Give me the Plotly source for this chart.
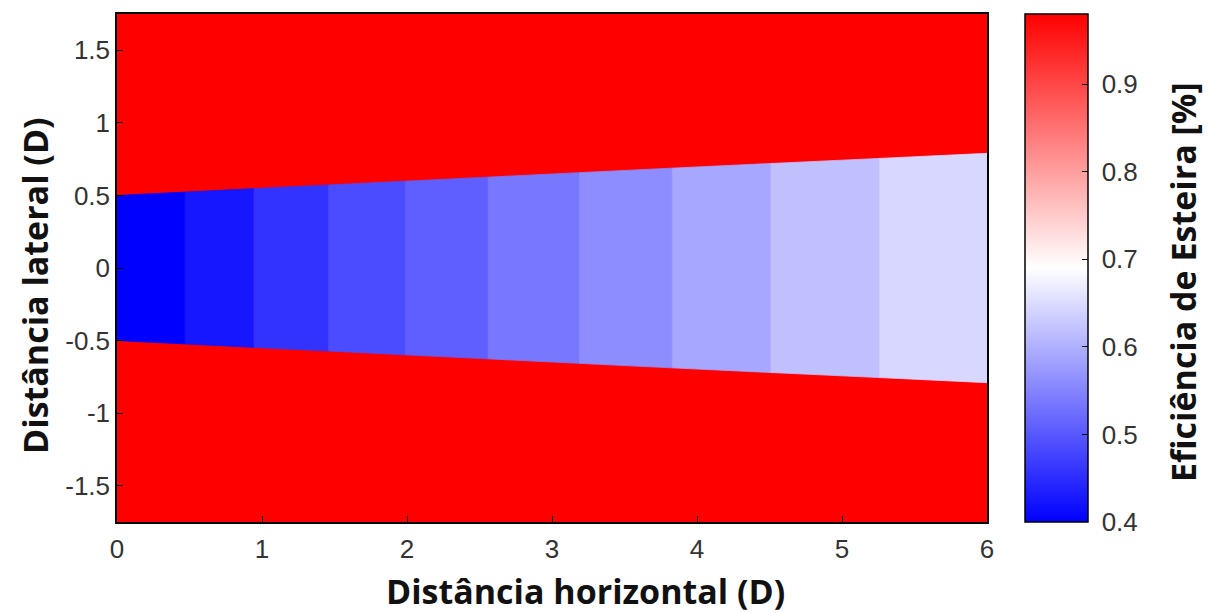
import plotly.graph_objects as go
from plotly.colors import sample_colorscale

# ---- data ----
x_edges = [0.0, 0.47, 0.945, 1.46, 1.99, 2.56, 3.19, 3.83, 4.51, 5.26, 6.0]
half_width = [0.50, 0.523, 0.547, 0.572, 0.598, 0.626, 0.657, 0.688, 0.72, 0.755, 0.79]
block_eff = [0.400, 0.425, 0.458, 0.485, 0.508, 0.537, 0.560, 0.590, 0.618, 0.645]
outer_eff = 0.98
x_ticks = [0, 1, 2, 3, 4, 5, 6]
y_ticks = [-1.5, -1, -0.5, 0, 0.5, 1, 1.5]
cb_ticks = [0.4, 0.5, 0.6, 0.7, 0.8, 0.9]

x_title = "Distância horizontal (D)"
y_title = "Distância lateral (D)"
cb_title = "Eficiência de Esteira [%]"

cmin, cmax = 0.4, 0.98
cscale = [[0.0, "rgb(0,0,255)"], [0.5, "rgb(255,255,255)"], [1.0, "rgb(255,0,0)"]]

TICKFONT = dict(family="Liberation Sans, Arial, sans-serif", size=26, color="#333")
TITLEFONT = dict(family="Open Sans, Liberation Sans, sans-serif", size=34, color="#111")

fig = go.Figure()

# free-stream (outside wake) region
fig.add_trace(go.Heatmap(
    x=[x_edges[0], x_edges[-1]], y=[-1.75, 1.75],
    z=[[outer_eff, outer_eff], [outer_eff, outer_eff]],
    colorscale=cscale, zmin=cmin, zmax=cmax, hoverinfo="skip",
    colorbar=dict(
        x=1.0437, xanchor="left", xref="paper", xpad=0, ypad=0,
        y=0, yanchor="bottom", len=1, lenmode="fraction",
        thickness=63, thicknessmode="pixels",
        outlinecolor="black", outlinewidth=1.5,
        tickvals=cb_ticks, ticktext=[" " + str(v) for v in cb_ticks],
        ticks="inside", ticklen=6, tickcolor="black",
        tickfont=TICKFONT,
    ),
))

# wake blocks
for i, v in enumerate(block_eff):
    x0, x1 = x_edges[i], x_edges[i + 1]
    h0, h1 = half_width[i], half_width[i + 1]
    col = sample_colorscale(cscale, [(v - cmin) / (cmax - cmin)])[0]
    fig.add_trace(go.Scatter(
        x=[x0, x1, x1, x0, x0], y=[-h0, -h1, h1, h0, -h0],
        mode="lines", fill="toself", fillcolor=col,
        line=dict(width=0.8, color=col), showlegend=False, hoverinfo="skip",
    ))

axis_common = dict(
    showgrid=False, zeroline=False, showline=True, linecolor="black",
    linewidth=1.5, mirror=True, ticks="inside", ticklen=6, tickcolor="black",
    tickfont=TICKFONT,
)

fig.update_layout(
    width=1213, height=613,
    margin=dict(l=117, r=226, t=12, b=91),
    paper_bgcolor="white", plot_bgcolor="white",
    showlegend=False,
    xaxis=dict(range=[0, 6], tickvals=x_ticks, ticktext=[str(t) for t in x_ticks],
               ticklabelstandoff=3, **axis_common),
    yaxis=dict(range=[-1.75, 1.75], tickvals=y_ticks, ticktext=[str(t) for t in y_ticks],
               **axis_common),
    annotations=[
        dict(text="<b>" + x_title + "</b>", xref="paper", yref="paper",
             x=0.538, y=-0.136, xanchor="center", yanchor="middle",
             showarrow=False, font=TITLEFONT),
        dict(text="<b>" + y_title + "</b>", xref="paper", yref="paper",
             x=-0.0943, y=0.4647, xanchor="center", yanchor="middle",
             textangle=-90, showarrow=False, font=TITLEFONT),
        dict(text="<b>" + cb_title + "</b>", xref="paper", yref="paper",
             x=1.2253, y=0.4725, xanchor="center", yanchor="middle",
             textangle=-90, showarrow=False, font=TITLEFONT),
    ],
)

fig.write_html("out.html")
